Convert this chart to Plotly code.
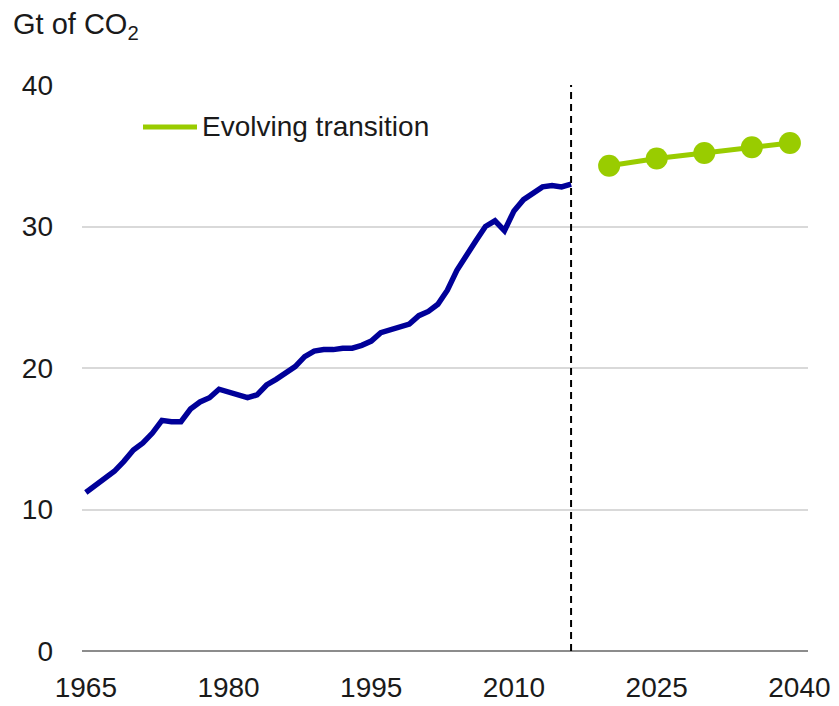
import plotly.graph_objects as go

# Historical emissions (Gt of CO2)
hist_years = list(range(1965, 2017))
hist_values = [11.2, 11.7, 12.1, 12.7, 13.4, 14.2, 14.7, 15.4, 16.3, 16.2,
               16.2, 17.1, 17.6, 17.9, 18.5, 18.3, 18.1, 17.9, 18.1, 18.8,
               19.2, 19.6, 20.1, 20.8, 21.2, 21.3, 21.3, 21.4, 21.4, 21.6,
               21.9, 22.5, 22.7, 22.8, 23.1, 23.7, 24.0, 24.5, 25.5, 26.9,
               28.0, 29.0, 30.0, 30.4, 29.7, 31.1, 31.9, 32.3, 32.8, 32.9,
               32.8, 33.0]

# Projection: Evolving transition
proj_years = [2020, 2025, 2030, 2035, 2039]
proj_values = [34.3, 34.8, 35.2, 35.6, 35.9]
proj_name = "Evolving transition"

x_ticks = [1965, 1980, 1995, 2010, 2025, 2040]
y_ticks = [0, 10, 20, 30, 40]
divider_year = 2016

BLUE = "#000099"
GREEN = "#99CC00"
FONT = "Liberation Sans, Arial, sans-serif"
TXT = "#1a1a1a"

fig = go.Figure()
fig.add_trace(go.Scatter(x=hist_years, y=hist_values, mode="lines",
                         line=dict(color=BLUE, width=5.5), showlegend=False,
                         hoverinfo="x+y"))
fig.add_trace(go.Scatter(x=proj_years, y=proj_values, mode="lines+markers",
                         name=proj_name,
                         line=dict(color=GREEN, width=5),
                         marker=dict(color=GREEN, size=22), showlegend=False))

# dashed divider
fig.add_shape(type="line", xref="x", yref="paper", x0=divider_year, x1=divider_year,
              y0=0, y1=1, line=dict(color="black", width=2, dash="7px,5px"))

# manual legend (positions in screen pixels converted to paper coords)
W, H = 726.0, 566.0
def px_x(p):
    return (p - 82) / W
def px_y(p):
    return (651 - p) / H

fig.add_shape(type="line", xref="paper", yref="paper",
              x0=px_x(143), x1=px_x(197), y0=px_y(127), y1=px_y(127),
              line=dict(color=GREEN, width=5))
fig.add_annotation(xref="paper", yref="paper", x=px_x(200), y=px_y(127),
                   text=proj_name, showarrow=False, xanchor="left", yanchor="middle",
                   font=dict(family=FONT, size=28, color=TXT))

# unit title
fig.add_annotation(xref="paper", yref="paper", x=px_x(11), y=px_y(26),
                   text="Gt of CO<sub>2</sub>", showarrow=False,
                   xanchor="left", yanchor="middle",
                   font=dict(family=FONT, size=29, color=TXT))

# page body has an 8px margin, so the figure is drawn 8px in from the top-left
fig.update_layout(
    width=831, height=698,
    margin=dict(l=74, r=31, t=77, b=55, autoexpand=False),
    paper_bgcolor="white", plot_bgcolor="white",
    font=dict(family=FONT, size=28, color=TXT),
    showlegend=False,
)
fig.update_xaxes(range=[1964.6, 2040.9], tickvals=x_ticks,
                 ticktext=[str(v) for v in x_ticks],
                 showgrid=False, zeroline=False, showline=False,
                 ticks="", ticklabelstandoff=17, automargin=False,
                 tickfont=dict(family=FONT, size=28, color=TXT))
fig.update_yaxes(range=[0, 40], tickvals=y_ticks,
                 showgrid=True, gridcolor="#d9d9d9", gridwidth=1.5,
                 zeroline=True, zerolinecolor="#8c8c8c", zerolinewidth=2,
                 showline=False, ticks="", ticklabelstandoff=28, automargin=False,
                 tickfont=dict(family=FONT, size=28, color=TXT))

fig.write_html("out.html")
